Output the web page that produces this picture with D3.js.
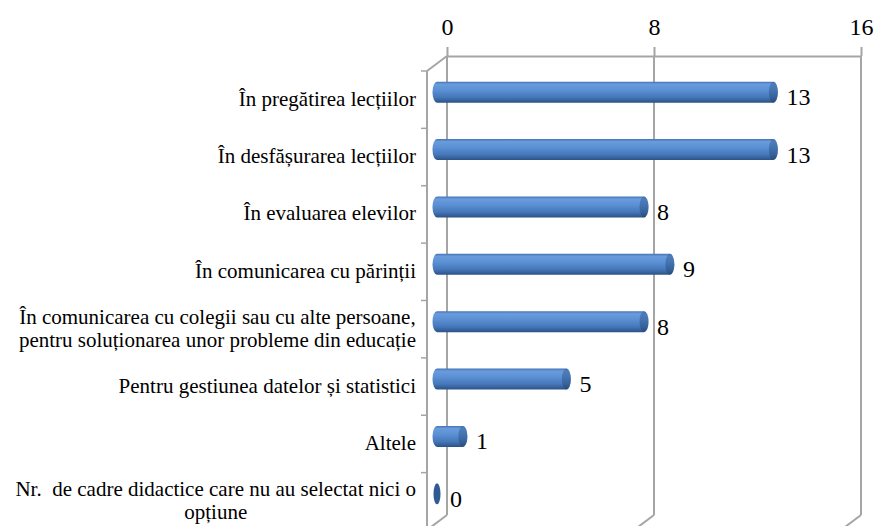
<!DOCTYPE html>
<html>
<head>
<meta charset="utf-8">
<script src="https://cdn.jsdelivr.net/npm/d3@7"></script>
<style>
  body { margin: 0; background: #fff; }
  svg text { font-family: "Liberation Serif", Tinos, "DejaVu Serif", "Times New Roman", serif; fill: #000; }
</style>
</head>
<body>
<script>
let width = 876;
let height = 526;
let serif = "'Liberation Serif', Tinos, 'DejaVu Serif', 'Times New Roman', serif";

// data
let categories = [
  ["În pregătirea lecțiilor"],
  ["În desfășurarea lecțiilor"],
  ["În evaluarea elevilor"],
  ["În comunicarea cu părinții"],
  ["În comunicarea cu colegii sau cu alte persoane,", "pentru soluționarea unor probleme din educație"],
  ["Pentru gestiunea datelor și statistici"],
  ["Altele"],
  ["Nr.  de cadre didactice care nu au selectat nici o", "opțiune"]
];
let values = [13, 13, 8, 9, 8, 5, 1, 0];
let tickValues = [0, 8, 16];

let svg = d3.select("body").append("svg")
  .attr("width", width)
  .attr("height", height)
  .style("font-family", serif);

// back wall of the 3d box
let backLeft = 447, backRight = 861, backTop = 56, backBottom = 515;
let depthX = -20, depthY = 15;
let gridColor = "#a5a5a5";

let x = d3.scaleLinear().domain([0, 16]).range([backLeft, backRight]);
let y = d3.scaleBand().domain(d3.range(categories.length)).range([backTop, backBottom]);

let defs = svg.append("defs");
let grad = defs.append("linearGradient").attr("id", "cyl").attr("x1", 0).attr("y1", 0).attr("x2", 0).attr("y2", 1);
[[0, "#4274b5"], [0.12, "#6a9cdd"], [0.4, "#5b90d4"], [0.75, "#4576b8"], [1, "#2b5286"]].forEach(function(s) {
  grad.append("stop").attr("offset", s[0]).attr("stop-color", s[1]);
});
let capGrad = defs.append("linearGradient").attr("id", "cap").attr("x1", 0).attr("y1", 0).attr("x2", 0).attr("y2", 1);
[[0, "#3b67a3"], [0.5, "#30598f"], [1, "#24446f"]].forEach(function(s) {
  capGrad.append("stop").attr("offset", s[0]).attr("stop-color", s[1]);
});

// gridlines on the back wall and floor edges
let grid = svg.append("g");
grid.selectAll(".vgrid").data(tickValues).join("line")
  .attr("x1", d => x(d)).attr("x2", d => x(d))
  .attr("y1", backTop).attr("y2", backBottom)
  .attr("stroke", gridColor).attr("stroke-width", 2);
grid.selectAll(".floor").data(tickValues).join("line")
  .attr("x1", d => x(d)).attr("y1", backBottom)
  .attr("x2", d => x(d) + depthX).attr("y2", backBottom + depthY)
  .attr("stroke", gridColor).attr("stroke-width", 2);

// left wall
grid.append("line")
  .attr("x1", backLeft).attr("y1", backTop)
  .attr("x2", backLeft + depthX).attr("y2", backTop + depthY)
  .attr("stroke", gridColor).attr("stroke-width", 2);
grid.append("line")
  .attr("x1", backLeft + depthX).attr("y1", backTop + depthY)
  .attr("x2", backLeft + depthX).attr("y2", backBottom + depthY)
  .attr("stroke", gridColor).attr("stroke-width", 2);

// category ticks on the front edge of the left wall
let bandEdges = d3.range(categories.length + 1).map(i => backTop + i * y.step());
grid.selectAll(".ctick").data(bandEdges).join("line")
  .attr("x1", backLeft + depthX - 6).attr("x2", backLeft + depthX)
  .attr("y1", d => d + depthY).attr("y2", d => d + depthY)
  .attr("stroke", gridColor).attr("stroke-width", 1.5);

// top value axis
let axis = d3.axisTop(x).tickValues(tickValues).tickSize(9).tickSizeOuter(0).tickFormat(d3.format("d"));
let axisG = svg.append("g").attr("transform", "translate(0," + backTop + ")").call(axis);
axisG.attr("font-family", null).attr("font-size", null);
axisG.select(".domain").attr("stroke", gridColor).attr("stroke-width", 2);
axisG.selectAll(".tick line").attr("stroke", gridColor).attr("stroke-width", 2);
axisG.selectAll(".tick text")
  .attr("y", -21).attr("dy", 0)
  .style("font-family", serif)
  .style("font-size", "24px").attr("fill", "#000");

// cylinders at half depth
let midX = depthX / 2, midY = depthY / 2;
let barR = 10.5, capR = 4.5;
let bars = svg.append("g");
values.forEach(function(v, i) {
  let cy = y(i) + y.bandwidth() / 2 + midY;
  let x0 = x(0) + midX;
  let x1 = x(v) + midX;
  if (v > 0) {
    bars.append("path")
      .attr("d", "M" + x0 + "," + (cy - barR) +
                 " L" + x1 + "," + (cy - barR) +
                 " A" + capR + "," + barR + " 0 0 1 " + x1 + "," + (cy + barR) +
                 " L" + x0 + "," + (cy + barR) +
                 " A" + capR + "," + barR + " 0 0 1 " + x0 + "," + (cy - barR) + " Z")
      .attr("fill", "url(#cyl)");
    bars.append("ellipse")
      .attr("cx", x1).attr("cy", cy).attr("rx", capR).attr("ry", barR)
      .attr("fill", "url(#cap)").attr("opacity", 0.55);
  } else {
    bars.append("ellipse")
      .attr("cx", x0).attr("cy", cy).attr("rx", 3.5).attr("ry", barR)
      .attr("fill", "#2f5a92");
  }
  svg.append("text")
    .attr("x", x(v) + 3).attr("y", cy + 13)
    .style("font-family", serif)
    .style("font-size", "24px")
    .text(v);
});

// category labels
let labelRight = 416;
categories.forEach(function(lines, i) {
  let cy = y(i) + y.bandwidth() / 2 + depthY;
  let lh = 23;
  let g = svg.append("g");
  let texts = lines.map(function(line, j) {
    return g.append("text")
      .attr("y", cy + 6 + (j - (lines.length - 1) / 2) * lh)
      .style("font-family", serif)
      .style("font-size", "21px")
      .style("white-space", "pre")
      .text(line);
  });
  let maxW = d3.max(texts, t => t.node().getComputedTextLength());
  texts.forEach(function(t) {
    t.attr("x", labelRight - maxW / 2).attr("text-anchor", "middle");
  });
});
</script>
</body>
</html>
